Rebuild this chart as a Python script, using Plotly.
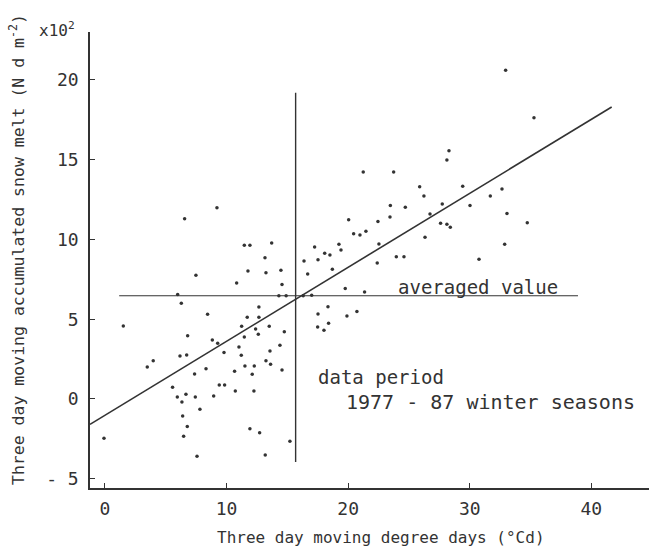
import plotly.graph_objects as go

# Scatter data: three-day moving degree days (x) vs accumulated snow melt (y, x10^2 N d m^-2)
deg_days = [
    9.21, 6.55, 11.46, 11.92, 13.71, 13.16, 11.76, 13.24, 14.47, 7.48, 10.83, 14.56, 16.37, 16.67,
    5.98, 14.3, 14.9, 6.28, 8.44, 1.51, 12.66, 11.70, 12.66, 11.24, 12.39, 13.51, 14.75, 6.80,
    11.46, 12.61,
    8.83, 9.27, 11.02, 9.79, 13.57, 14.39, 6.17, 6.72, 11.21, 3.97, 3.48, 13.24, 13.62, 11.51,
    12.28, 8.31, 7.37, 10.66, 12.11, 14.56, 9.40, 9.84, 5.56, 10.72, 12.25, 6.66, 5.95, 7.43,
    8.94, 6.33, 7.81, 6.39, 6.77, 6.47, -0.08, 11.92, 12.72, 15.21, 7.57, 13.18,
    32.95, 35.28, 28.29, 28.12, 21.24, 23.74, 25.88, 29.42, 26.23, 31.69, 32.65,
    23.47, 24.70, 27.74, 30.02, 26.73, 33.06, 23.44, 20.04, 22.45, 27.60, 28.12, 28.40, 34.73,
    20.45, 20.97, 21.46, 26.32, 32.87, 22.53, 17.24, 19.24, 19.41, 18.07, 18.50, 17.52, 23.96,
    24.59, 30.76, 22.39, 18.70, 19.76, 21.35, 16.3, 17.0, 18.34, 17.52, 19.90, 20.72, 18.39,
    17.49, 18.01,
]
snow_melt = [
    11.99, 11.30, 9.63, 9.63, 9.77, 8.85, 8.02, 7.91, 8.06, 7.75, 7.27, 7.18, 8.65, 7.83,
    6.54, 6.47, 6.47, 6.0, 5.31, 4.57, 5.76, 5.12, 5.12, 4.55, 4.39, 4.55, 4.22, 3.97,
    3.88, 4.05,
    3.70, 3.49, 3.26, 2.92, 3.01, 3.36, 2.69, 2.76, 2.74, 2.40, 2.01, 2.40, 2.17, 2.07,
    2.07, 1.90, 1.57, 1.73, 1.55, 1.82, 0.88, 0.88, 0.73, 0.50, 0.50, 0.29, 0.13, 0.13,
    0.19, -0.19, -0.65, -1.07, -1.73, -2.34, -2.46, -1.86, -2.11, -2.65, -3.59, -3.51,
    20.61, 17.63, 15.56, 14.97, 14.22, 14.22, 13.30, 13.33, 12.72, 12.72, 13.16,
    12.13, 12.01, 12.22, 12.13, 11.59, 11.63, 11.40, 11.24, 11.13, 11.01, 10.95, 10.76, 11.05,
    10.36, 10.28, 10.51, 10.13, 9.69, 9.71, 9.52, 9.69, 9.34, 9.13, 9.02, 8.73, 8.92,
    8.92, 8.75, 8.52, 8.13, 6.93, 6.70, 6.47, 6.50, 5.78, 5.33, 5.20, 5.49, 4.74,
    4.51, 4.30,
]

# Reference lines
reg_x = [-1.23, 41.67]
reg_y = [-1.59, 18.30]
avg_x = [1.17, 38.9]
avg_y = [6.47, 6.47]
mean_x = [15.68, 15.68]
mean_y = [-3.95, 19.2]

x_ticks = [0, 10, 20, 30, 40]
y_ticks = [-5, 0, 5, 10, 15, 20]
y_ticktext = ["- 5", "0", "5", "10", "15", "20"]

FONT = "DejaVu Sans Mono"
INK = "#333333"

fig = go.Figure()
fig.add_trace(go.Scatter(x=reg_x, y=reg_y, mode="lines",
                         line=dict(color=INK, width=1.6), showlegend=False))
fig.add_trace(go.Scatter(x=avg_x, y=avg_y, mode="lines",
                         line=dict(color=INK, width=1.1), showlegend=False))
fig.add_trace(go.Scatter(x=mean_x, y=mean_y, mode="lines",
                         line=dict(color=INK, width=1.4), showlegend=False))
fig.add_trace(go.Scatter(x=deg_days, y=snow_melt, mode="markers",
                         marker=dict(color=INK, size=3.5), showlegend=False))

fig.update_layout(
    width=649, height=552,
    margin=dict(l=90, r=0, t=32, b=64),
    paper_bgcolor="white", plot_bgcolor="white",
    font=dict(family=FONT, color=INK),
    xaxis=dict(range=[-1.23, 44.74], tickvals=x_ticks, ticks="inside", ticklen=5,
               tickcolor=INK, showline=True, linecolor=INK, linewidth=1.5,
               showgrid=False, zeroline=False, tickfont=dict(size=18, family=FONT, color=INK),
               ticklabelstandoff=4),
    yaxis=dict(range=[-5.58, 23.0], tickvals=y_ticks, ticktext=y_ticktext, ticks="inside",
               ticklen=5, tickcolor=INK, showline=True, linecolor=INK, linewidth=1.5,
               showgrid=False, zeroline=False, tickfont=dict(size=18, family=FONT, color=INK),
               ticklabelstandoff=6),
)

W, H = 559.0, 456.0
def px(xp):
    return (xp - 90) / W
def py(yp):
    return (488 - yp) / H

annots = [
    dict(text="Three day moving degree days (°Cd)", x=px(381), y=py(537), size=16, angle=0),
    dict(text="Three day moving accumulated snow melt (N d m<sup>-2</sup>)", x=px(17), y=py(250),
         size=16.5, angle=-90),
    dict(text="x10<sup>2</sup>", x=px(57), y=py(29), size=16, angle=0),
]
for a in annots:
    fig.add_annotation(text=a["text"], x=a["x"], y=a["y"], xref="paper", yref="paper",
                       showarrow=False, textangle=a["angle"], xanchor="center", yanchor="middle",
                       font=dict(family=FONT, size=a["size"], color=INK))

fig.add_annotation(text="averaged value", x=23.9, y=7.02, xref="x", yref="y", showarrow=False,
                   xanchor="left", yanchor="middle", font=dict(family=FONT, size=19, color=INK))
fig.add_annotation(text="data period", x=17.41, y=0.6, xref="x", yref="y", showarrow=False,
                   xanchor="left", yanchor="bottom", borderpad=0,
                   font=dict(family=FONT, size=19, color=INK))
fig.add_annotation(text="1977 - 87 winter seasons", x=19.74, y=0.6, xref="x", yref="y",
                   showarrow=False, xanchor="left", yanchor="top", borderpad=0,
                   font=dict(family=FONT, size=20, color=INK))

fig.write_html("out.html")
